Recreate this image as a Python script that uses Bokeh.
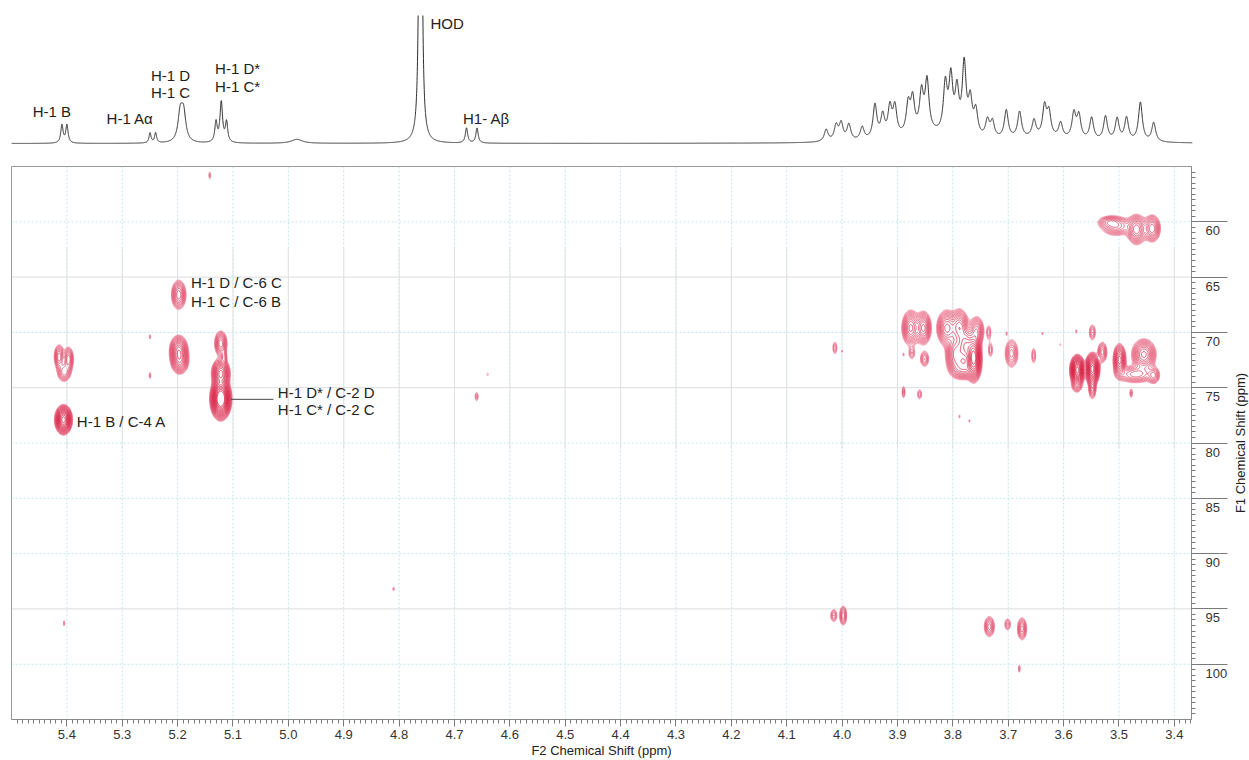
import math
import numpy as np
from bokeh.plotting import figure
from bokeh.layouts import column, row
from bokeh.models import Range1d, FixedTicker, CustomJSTickFormatter, Span
from bokeh.core.properties import value
from bokeh.embed import file_html
from bokeh.resources import INLINE

# ---------------- 1H projection (F2) ----------------
# peak centre (ppm), height (px above baseline), half width at half height (ppm)
proton_ppm = [5.409, 5.400, 5.250, 5.240, 5.1955, 5.1895, 5.131, 5.1215, 5.112,
              4.985, 4.762, 4.679, 4.660,
              4.030, 4.012, 4.003, 3.989, 3.965, 3.942, 3.928, 3.915, 3.906,
              3.882, 3.874, 3.858, 3.848, 3.815, 3.805, 3.794, 3.781, 3.770,
              3.760, 3.739, 3.730, 3.705, 3.681, 3.655, 3.636, 3.628, 3.607,
              3.583, 3.574, 3.551, 3.526, 3.505, 3.488, 3.463, 3.439,
              3.850, 3.640]
proton_height = [18, 18, 10, 10, 28, 28, 20, 40, 20,
                 4, 2500, 15, 15,
                 12, 15, 17, 16, 13, 34, 22, 29, 29,
                 29, 33, 38, 50, 48, 54, 42, 70, 34,
                 25, 17, 16, 28, 26, 17, 30, 24, 15,
                 25, 23, 22, 24, 22, 23, 39, 19,
                 8, 4]
proton_hwhm = ([0.0025, 0.0025, 0.0022, 0.0022, 0.0048, 0.0048, 0.0025, 0.0028, 0.0025,
                0.012, 0.001, 0.0025, 0.0025] + [0.0042] * 35 + [0.05, 0.08])

proj_label_text = ["H-1 B", "H-1 A\u03b1", "H-1 D", "H-1 C", "H-1 D*", "H-1 C*", "HOD", "H1- A\u03b2"]
proj_label_ppm = [5.427, 5.286, 5.213, 5.213, 5.092, 5.092, 4.744, 4.643]
proj_label_height = [32, 25, 68, 51, 75, 57, 120, 25]
proj_label_align = ["center", "center", "center", "center", "center", "center", "left", "center"]

# ---------------- HSQC cross peaks ----------------
# 1H shift, 13C shift, intensity, 1H width, 13C width
hsqc_h = [5.406, 5.414, 5.397, 5.405, 5.250, 5.250, 5.198, 5.198, 5.196,
          5.122, 5.116, 5.122, 5.122, 5.142, 5.405, 4.660, 4.640, 4.810,
          3.505, 3.468, 3.440, 3.518,
          4.013, 4.000,
          3.876, 3.853, 3.874, 3.851, 3.889,
          3.811, 3.788, 3.757, 3.776, 3.762, 3.795, 3.780,
          3.735, 3.732, 3.703, 3.638, 3.577, 3.606,
          3.694, 3.654, 3.548,
          3.575, 3.548, 3.548, 3.530, 3.576,
          3.499, 3.455, 3.470, 3.437, 3.478,
          3.889, 3.860, 3.788, 3.770,
          4.015, 3.998, 3.734, 3.701, 3.675, 3.680]
hsqc_c = [77.9, 72.2, 72.4, 73.6, 70.4, 73.9, 66.6, 71.6, 72.6,
          71.0, 72.2, 73.7, 76.0, 55.8, 96.3, 75.8, 73.8, 93.2,
          60.4, 60.7, 60.6, 60.0,
          71.4, 71.7,
          69.6, 69.6, 71.9, 72.4, 72.0,
          69.6, 69.5, 69.9, 71.3, 72.3, 72.0, 73.3,
          70.0, 71.6, 70.1, 70.1, 69.9, 71.1,
          71.9, 72.1, 70.0,
          73.4, 73.3, 75.0, 71.8, 74.8,
          72.5, 72.0, 73.8, 73.9, 75.5,
          75.4, 75.6, 77.6, 78.0,
          95.6, 95.6, 96.6, 96.4, 96.8, 100.4]
hsqc_amp = [25, 5, 5, 4, 1.4, 1.5, 6, 9, 7,
            6, 2.5, 14, 40, 1.5, 1.4, 1.8, 1.2, 1.4,
            4, 7, 6, 2.5,
            2, 1.3,
            8, 8, 2, 3, 1.3,
            8, 8, 6, 10, 25, 8, 6,
            2, 2, 1.3, 1.3, 1.3, 1.2,
            4, 2, 2.5,
            30, 25, 4, 4, 3,
            10, 8, 4, 3, 1.8,
            2.2, 2, 1.3, 1.3,
            2.5, 3.5, 4, 2.2, 4, 1.6]
hsqc_wh = [0.0065, 0.005, 0.005, 0.007, 0.0015, 0.0015, 0.007, 0.008, 0.008,
           0.006, 0.003, 0.0075, 0.0075, 0.0015, 0.0015, 0.0025, 0.002, 0.0015,
           0.016, 0.009, 0.008, 0.012,
           0.003, 0.001,
           0.008, 0.007, 0.004, 0.005, 0.001,
           0.009, 0.008, 0.007, 0.008, 0.006, 0.009, 0.012,
           0.003, 0.003, 0.0012, 0.0012, 0.0015, 0.0015,
           0.007, 0.003, 0.004,
           0.0055, 0.0055, 0.004, 0.005, 0.006,
           0.0055, 0.011, 0.02, 0.006, 0.002,
           0.002, 0.003, 0.001, 0.001,
           0.004, 0.004, 0.0055, 0.004, 0.005, 0.0015]
hsqc_wc = [0.55, 0.6, 0.6, 0.5, 0.25, 0.3, 0.7, 0.65, 0.6,
           0.6, 0.4, 0.6, 0.75, 0.35, 0.3, 0.35, 0.2, 0.2,
           0.5, 0.7, 0.65, 0.3,
           0.45, 0.15,
           0.8, 0.75, 0.4, 0.45, 0.2,
           0.8, 0.8, 0.7, 0.9, 0.9, 0.9, 0.5,
           0.5, 0.5, 0.2, 0.2, 0.25, 0.15,
           0.75, 0.55, 0.5,
           0.55, 0.6, 0.6, 0.55, 0.4,
           0.7, 0.7, 0.45, 0.45, 0.35,
           0.4, 0.35, 0.2, 0.2,
           0.4, 0.55, 0.55, 0.4, 0.6, 0.35]

cross_label_text = ["H-1 D / C-6 C", "H-1 C / C-6 B", "H-1 D* / C-2 D",
                    "H-1 C* / C-2 C", "H-1 B / C-4 A"]
cross_label_h = [5.176, 5.176, 5.019, 5.019, 5.382]
cross_label_c = [65.5, 67.2, 75.4, 77.0, 78.1]

# leader line from the H-1 D*/C* cross peak to its label
leader_h = [5.104, 5.027]
leader_c = [76.05, 76.05]

x_ticks = [5.4, 5.3, 5.2, 5.1, 5.0, 4.9, 4.8, 4.7, 4.6, 4.5, 4.4,
           4.3, 4.2, 4.1, 4.0, 3.9, 3.8, 3.7, 3.6, 3.5, 3.4]
y_ticks = [60, 65, 70, 75, 80, 85, 90, 95, 100]

FONT = "Liberation Sans"
x_range = Range1d(5.5, 3.369)
y_range = Range1d(105, 55)

# ---------------- projection panel ----------------
top = figure(width=1249, height=150, x_range=x_range, y_range=Range1d(-7, 128),
             toolbar_location=None, output_backend="svg",
             x_axis_location=None, y_axis_location=None,
             min_border_left=11, min_border_right=57, min_border_top=15, min_border_bottom=0)
top.grid.visible = False
top.outline_line_color = None

ppm_axis = np.linspace(5.5, 3.369, 10700)
spectrum = np.zeros_like(ppm_axis)
for c, h, w in zip(proton_ppm, proton_height, proton_hwhm):
    spectrum += h / (1.0 + ((ppm_axis - c) / w) ** 2)
top.line(ppm_axis, spectrum, line_color="#2e2e2e", line_width=1)
top.text(x=proj_label_ppm, y=proj_label_height, text=proj_label_text,
         text_align=proj_label_align, text_baseline="middle",
         text_font=value(FONT), text_font_size="15px", text_color="#222222")

# ---------------- HSQC panel ----------------
p = figure(width=1230, height=610, x_range=x_range, y_range=y_range,
           toolbar_location=None, output_backend="svg", y_axis_location="right",
           min_border_left=11, min_border_right=38, min_border_top=16, min_border_bottom=41)
p.grid.visible = False
p.outline_line_color = "#9a9a9a"

# grid
grid_cyan = "#bfe6ec"
for t in x_ticks:
    p.add_layout(Span(location=t, dimension="height", line_color=grid_cyan,
                      line_dash="2 2", line_width=1, level="underlay"))
for t in y_ticks:
    if t in (65, 75, 95):
        p.add_layout(Span(location=t, dimension="width", line_color="#dcdcdc",
                          line_width=1, level="underlay"))
    else:
        p.add_layout(Span(location=t, dimension="width", line_color=grid_cyan,
                          line_dash="2 2", line_width=1, level="underlay"))
p.segment(x0=x_ticks, y0=[62.4] * len(x_ticks), x1=x_ticks, y1=[80.5] * len(x_ticks),
          line_color="#e2e2e2", line_width=1)

# cross-peak surface and contours
gx = np.arange(3.37, 5.5, 0.0005)
gy = np.arange(55.0, 105.0, 0.06)
surface = np.zeros((gy.size, gx.size))
for h, c, a, wh, wc in zip(hsqc_h, hsqc_c, hsqc_amp, hsqc_wh, hsqc_wc):
    surface += a * np.outer(np.exp(-0.5 * ((gy - c) / wc) ** 2),
                            np.exp(-0.5 * ((gx - h) / wh) ** 2))

n_levels = 19
levels = [1.2 ** k for k in range(n_levels)]
c0 = np.array([242, 140, 165])
c1 = np.array([212, 0, 40])
level_colors = []
for k in range(n_levels):
    f = (k / (n_levels - 1)) ** 0.6
    r, g, b = (c0 + (c1 - c0) * f).astype(int)
    level_colors.append(f"#{r:02x}{g:02x}{b:02x}")
p.contour(gx, gy, surface, levels, line_color=level_colors, line_width=0.8, fill_color=None)

p.line(leader_h, leader_c, line_color="#444444", line_width=1)
p.text(x=cross_label_h, y=cross_label_c, text=cross_label_text,
       text_align="left", text_baseline="middle",
       text_font=value(FONT), text_font_size="15px", text_color="#222222")

# axes
minor_x = [round(v, 2) for v in np.arange(3.37, 5.50, 0.01)]
xa = p.xaxis[0]
xa.ticker = FixedTicker(ticks=x_ticks, minor_ticks=minor_x)
xa.formatter = CustomJSTickFormatter(code="return tick.toFixed(1);")
xa.axis_label = "F2 Chemical Shift (ppm)"
ya = p.yaxis[0]
ya.ticker = FixedTicker(ticks=y_ticks, minor_ticks=[round(v, 1) for v in np.arange(55.5, 105.0, 0.5)])
ya.formatter = CustomJSTickFormatter(code="return '\\n' + tick.toFixed(0);")
for ax in (xa, ya):
    ax.axis_line_color = "#8a8a8a"
    ax.major_tick_line_color = "#7a7a7a"
    ax.minor_tick_line_color = "#7a7a7a"
    ax.major_tick_in = 0
    ax.minor_tick_in = 0
    ax.minor_tick_out = 4
    ax.major_label_text_font = FONT
    ax.major_label_text_font_size = "13px"
    ax.major_label_text_color = "#333333"
    ax.axis_label_text_font = FONT
    ax.axis_label_text_font_size = "13px"
    ax.axis_label_text_font_style = "normal"
    ax.axis_label_text_color = "#222222"
xa.major_tick_out = 7
xa.major_label_standoff = 3
xa.axis_label_standoff = 1
ya.major_tick_out = 36
ya.major_label_standoff = -22

# narrow strip holding the F1 axis title, reading bottom to top
side = figure(width=19, height=610, x_range=Range1d(0, 19), y_range=y_range,
              toolbar_location=None, output_backend="svg",
              x_axis_location=None, y_axis_location=None,
              min_border_left=0, min_border_right=0, min_border_top=16, min_border_bottom=41)
side.grid.visible = False
side.outline_line_color = None
side.text(x=[10], y=[80.0], text=["F1 Chemical Shift (ppm)"], angle=math.pi / 2,
          text_align="center", text_baseline="middle",
          text_font=value(FONT), text_font_size="13px", text_color="#222222")

layout = column(top, row(p, side, spacing=0), spacing=0)
open("out.html", "w").write(file_html(layout, INLINE))
